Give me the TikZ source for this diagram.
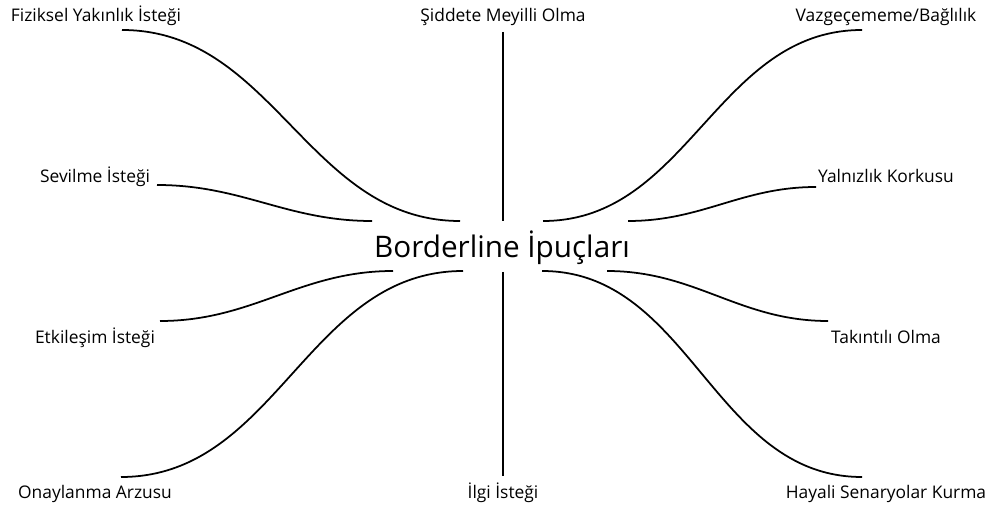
\documentclass[tikz,border=0pt]{standalone}
\usepackage{fontspec}
\setmainfont{Open Sans}
\usetikzlibrary{positioning}

\begin{document}
\begin{tikzpicture}[
    x=0.02cm, y=-0.02cm,
    tip/.style={anchor=base, inner sep=0pt, font=\fontsize{9.9}{12}\selectfont},
    hub/.style={anchor=base, inner sep=0pt, font=\fontsize{16.9}{20}\selectfont},
    link/.style={line width=1pt}
  ]
  \useasboundingbox (0,0) rectangle (990,509);

  % Centre
  \node[hub] (hub) at (502,258) {Borderline İpuçları};

  % Labels
  \node[tip] (fiz) at (96,21.5)   {Fiziksel Yakınlık İsteği};
  \node[tip] (sev) at (95,182.5)  {Sevilme İsteği};
  \node[tip] (etk) at (95,343.5)  {Etkileşim İsteği};
  \node[tip] (ona) at (95,499)    {Onaylanma Arzusu};
  \node[tip] (sid) at (503,21.5)  {Şiddete Meyilli Olma};
  \node[tip] (ilg) at (503,499)   {İlgi İsteği};
  \node[tip] (vaz) at (886,21.5)  {Vazgeçememe/Bağlılık};
  \node[tip] (yal) at (886,182.5) {Yalnızlık Korkusu};
  \node[tip] (tak) at (886,343.5) {Takıntılı Olma};
  \node[tip] (hay) at (886,499)   {Hayali Senaryolar Kurma};

  % Branch ends
  \coordinate (fiz-a) at (122,30);  \coordinate (fiz-b) at (460,221);
  \coordinate (sev-a) at (157,185); \coordinate (sev-b) at (372,221);
  \coordinate (etk-a) at (160,321); \coordinate (etk-b) at (393,271);
  \coordinate (ona-a) at (121,477); \coordinate (ona-b) at (463,271);
  \coordinate (sid-a) at (503,32);  \coordinate (sid-b) at (503,221);
  \coordinate (ilg-a) at (503,272); \coordinate (ilg-b) at (503,476);
  \coordinate (vaz-a) at (543,221); \coordinate (vaz-b) at (862,30);
  \coordinate (yal-a) at (628,221); \coordinate (yal-b) at (816,187);
  \coordinate (tak-a) at (607,271); \coordinate (tak-b) at (828,321);
  \coordinate (hay-a) at (542,271); \coordinate (hay-b) at (862,477);

  % Branches
  \draw[link] (fiz-a) to[out=0,in=180] (fiz-b);
  \draw[link] (sev-a) to[out=0,in=180] (sev-b);
  \draw[link] (etk-a) to[out=0,in=180] (etk-b);
  \draw[link] (ona-a) to[out=0,in=180] (ona-b);
  \draw[link] (sid-a) -- (sid-b);
  \draw[link] (ilg-a) -- (ilg-b);
  \draw[link] (vaz-a) to[out=0,in=180] (vaz-b);
  \draw[link] (yal-a) to[out=0,in=180] (yal-b);
  \draw[link] (tak-a) to[out=0,in=180] (tak-b);
  \draw[link] (hay-a) to[out=0,in=180] (hay-b);
\end{tikzpicture}
\end{document}
